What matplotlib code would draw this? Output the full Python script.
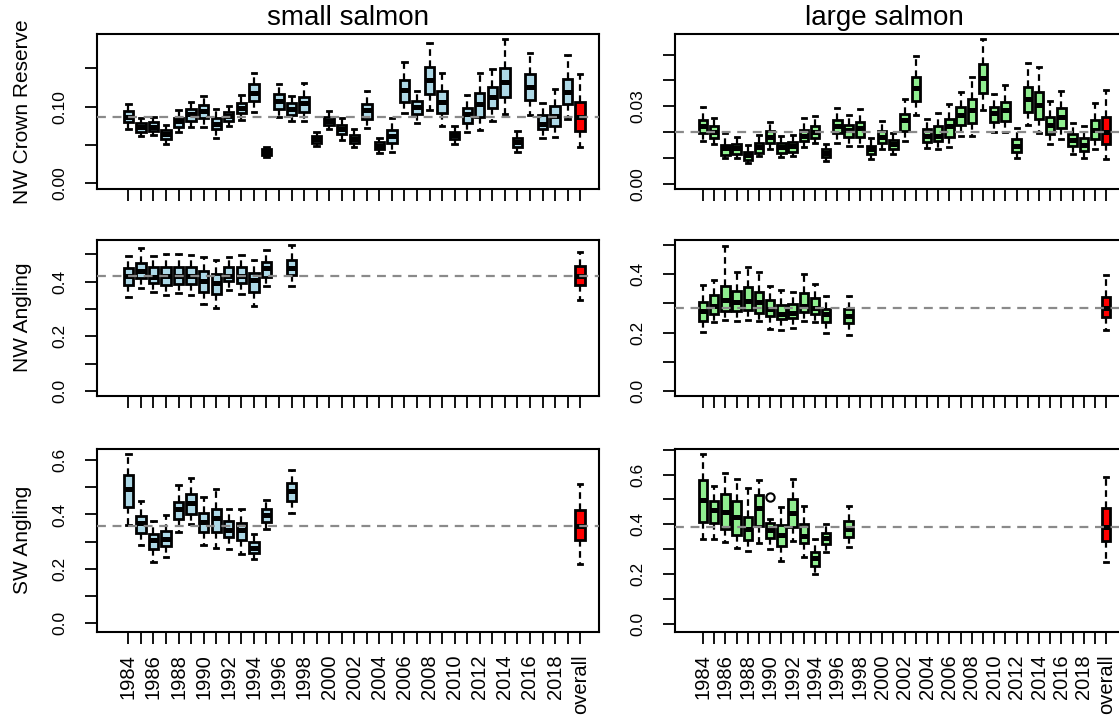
import numpy as np
import matplotlib.pyplot as plt

plt.rcParams['font.family'] = ['Liberation Sans', 'DejaVu Sans']

nan = np.nan
years = list(range(1984, 2020))
xlabels = [str(y) for y in years] + ['overall']

# ---- small salmon, NW Crown Reserve
sm_cr_lo = [0.0709, 0.0617, 0.063, 0.0513, 0.0665, 0.0739, 0.073, 0.0596, 0.0752, 0.0826, 0.0935, 0.0348,
            0.087, 0.0817, 0.0817, 0.0487, 0.0709, 0.0565, 0.047, 0.0726, 0.04, 0.0413, 0.0913, 0.0791,
            0.0957, 0.0752, 0.0513, 0.0665, 0.0696, 0.0817, 0.09, 0.0404, 0.0891, 0.0596, 0.0609, 0.0835, 0.047]
sm_cr_q1 = [0.0796, 0.0674, 0.0683, 0.0578, 0.0739, 0.0817, 0.0848, 0.0704, 0.0817, 0.0913, 0.1074, 0.037,
            0.097, 0.0891, 0.0926, 0.0522, 0.0761, 0.0643, 0.0522, 0.0835, 0.0443, 0.0522, 0.1065, 0.0904,
            0.1165, 0.0913, 0.0578, 0.0791, 0.087, 0.0978, 0.1126, 0.0478, 0.1087, 0.0709, 0.0752, 0.1035, 0.0687]
sm_cr_med = [0.0861, 0.073, 0.0739, 0.0639, 0.0817, 0.0904, 0.0943, 0.0778, 0.0878, 0.0987, 0.1174, 0.0409,
             0.1078, 0.0965, 0.1052, 0.0574, 0.0817, 0.0704, 0.0578, 0.0957, 0.0487, 0.0617, 0.1217, 0.0991,
             0.1348, 0.1065, 0.063, 0.0904, 0.1035, 0.113, 0.1326, 0.0535, 0.1252, 0.077, 0.0878, 0.1196, 0.0861]
sm_cr_q3 = [0.0943, 0.0783, 0.0804, 0.0696, 0.0857, 0.0965, 0.1022, 0.0848, 0.0926, 0.1052, 0.1291, 0.0448,
            0.1161, 0.1043, 0.113, 0.0617, 0.0861, 0.0761, 0.063, 0.1035, 0.0535, 0.0696, 0.1348, 0.1074,
            0.1522, 0.1204, 0.0674, 0.0978, 0.1183, 0.1261, 0.1509, 0.0587, 0.1422, 0.0891, 0.1009, 0.1361, 0.1065]
sm_cr_hi = [0.1035, 0.0857, 0.087, 0.0761, 0.0952, 0.106, 0.1143, 0.097, 0.1009, 0.1152, 0.1435, 0.0478,
            0.1296, 0.1139, 0.1304, 0.0674, 0.0943, 0.0848, 0.0704, 0.1204, 0.0587, 0.0848, 0.1587, 0.1204,
            0.1835, 0.1443, 0.0748, 0.1152, 0.1443, 0.1491, 0.1883, 0.0683, 0.1704, 0.1052, 0.123, 0.1674, 0.1422]

# ---- large salmon, NW Crown Reserve
lg_cr_lo = [0.0164, 0.0153, 0.0099, 0.0099, 0.008, 0.0106, 0.0135, 0.0102, 0.0108, 0.0142, 0.0157, 0.0089,
            0.0157, 0.0148, 0.0147, 0.0095, 0.0135, 0.0116, 0.0166, 0.0267, 0.0138, 0.0134, 0.0144, 0.0187,
            0.0186, 0.0286, 0.0202, 0.0202, 0.0099, 0.0226, 0.0196, 0.0155, 0.0173, 0.0115, 0.0099, 0.0134, 0.0095]
lg_cr_q1 = [0.0196, 0.0177, 0.0112, 0.0116, 0.0093, 0.0121, 0.0157, 0.0121, 0.0125, 0.0164, 0.0177, 0.0103,
            0.0196, 0.018, 0.0183, 0.0116, 0.016, 0.0134, 0.0206, 0.0321, 0.0161, 0.0166, 0.0183, 0.0228,
            0.0235, 0.0351, 0.0238, 0.0244, 0.0122, 0.028, 0.025, 0.0193, 0.0218, 0.0147, 0.0129, 0.0173, 0.0153]
lg_cr_med = [0.0222, 0.0202, 0.0138, 0.0138, 0.0112, 0.0144, 0.0183, 0.0142, 0.0147, 0.0186, 0.0202, 0.0119,
             0.0222, 0.0209, 0.0215, 0.0134, 0.0183, 0.0153, 0.0247, 0.037, 0.0186, 0.0186, 0.0222, 0.0267,
             0.0286, 0.0409, 0.0273, 0.0286, 0.0147, 0.0327, 0.0305, 0.0228, 0.0258, 0.017, 0.0151, 0.0209, 0.0202]
lg_cr_q3 = [0.0247, 0.0222, 0.0151, 0.0153, 0.0125, 0.0157, 0.0206, 0.0157, 0.0161, 0.0209, 0.0224, 0.0134,
            0.0247, 0.0228, 0.0241, 0.0148, 0.0206, 0.017, 0.0271, 0.0415, 0.0213, 0.0224, 0.025, 0.0296,
            0.0327, 0.0464, 0.0296, 0.0318, 0.0173, 0.0374, 0.0354, 0.026, 0.0293, 0.0192, 0.0177, 0.0247, 0.026]
lg_cr_hi = [0.0299, 0.0256, 0.0196, 0.0183, 0.0151, 0.0189, 0.0241, 0.0186, 0.0189, 0.0254, 0.0263, 0.0155,
            0.0295, 0.0267, 0.029, 0.0177, 0.0245, 0.0196, 0.0327, 0.0495, 0.025, 0.0276, 0.0309, 0.0354,
            0.0415, 0.0561, 0.0348, 0.0383, 0.0215, 0.0466, 0.0451, 0.0322, 0.0361, 0.0235, 0.0224, 0.0314, 0.0363]

# only 1984-1995, 1997 and overall in the angling series
gap = [nan] * 22
# ---- small salmon, NW Angling
sm_nw_lo = [0.345, 0.378, 0.361, 0.349, 0.357, 0.351, 0.318, 0.302, 0.37, 0.355, 0.312, 0.382, nan, 0.385] + gap + [0.333]
sm_nw_q1 = [0.388, 0.412, 0.394, 0.388, 0.39, 0.391, 0.363, 0.354, 0.402, 0.394, 0.361, 0.418, nan, 0.424] + gap + [0.388]
sm_nw_med = [0.422, 0.437, 0.418, 0.421, 0.421, 0.421, 0.402, 0.396, 0.422, 0.422, 0.404, 0.449, nan, 0.449] + gap + [0.422]
sm_nw_q3 = [0.451, 0.467, 0.455, 0.455, 0.455, 0.455, 0.439, 0.428, 0.455, 0.455, 0.43, 0.471, nan, 0.479] + gap + [0.457]
sm_nw_hi = [0.495, 0.522, 0.495, 0.5, 0.5, 0.498, 0.488, 0.479, 0.491, 0.498, 0.479, 0.516, nan, 0.532] + gap + [0.507]

# ---- large salmon, NW Angling
lg_nw_lo = [0.201, 0.235, 0.244, 0.238, 0.244, 0.238, 0.213, 0.21, 0.216, 0.241, 0.235, 0.199, nan, 0.19] + gap + [0.21]
lg_nw_q1 = [0.241, 0.264, 0.272, 0.272, 0.277, 0.267, 0.256, 0.247, 0.249, 0.269, 0.264, 0.235, nan, 0.232] + gap + [0.252]
lg_nw_med = [0.272, 0.29, 0.311, 0.303, 0.309, 0.303, 0.281, 0.264, 0.267, 0.29, 0.283, 0.264, nan, 0.258] + gap + [0.283]
lg_nw_q3 = [0.303, 0.328, 0.36, 0.343, 0.357, 0.34, 0.311, 0.294, 0.298, 0.335, 0.317, 0.281, nan, 0.281] + gap + [0.32]
lg_nw_hi = [0.363, 0.381, 0.494, 0.406, 0.425, 0.406, 0.36, 0.345, 0.34, 0.4, 0.366, 0.326, nan, 0.326] + gap + [0.398]

# ---- small salmon, SW Angling
sm_sw_lo = [0.361, 0.288, 0.226, 0.245, 0.337, 0.364, 0.288, 0.278, 0.272, 0.253, 0.236, 0.346, nan, 0.404] + gap + [0.218]
sm_sw_q1 = [0.426, 0.333, 0.272, 0.284, 0.383, 0.401, 0.337, 0.337, 0.318, 0.306, 0.259, 0.373, nan, 0.449] + gap + [0.306]
sm_sw_med = [0.493, 0.367, 0.306, 0.31, 0.419, 0.443, 0.373, 0.386, 0.343, 0.343, 0.278, 0.398, nan, 0.486] + gap + [0.357]
sm_sw_q3 = [0.545, 0.394, 0.327, 0.339, 0.447, 0.475, 0.406, 0.42, 0.376, 0.37, 0.297, 0.42, nan, 0.517] + gap + [0.416]
sm_sw_hi = [0.622, 0.449, 0.376, 0.398, 0.51, 0.535, 0.465, 0.492, 0.422, 0.422, 0.327, 0.453, nan, 0.565] + gap + [0.514]

# ---- large salmon, SW Angling
lg_sw_lo = [0.34, 0.34, 0.33, 0.306, 0.294, 0.326, 0.299, 0.253, 0.334, 0.27, 0.199, 0.29, nan, 0.31] + gap + [0.25]
lg_sw_q1 = [0.41, 0.406, 0.381, 0.357, 0.337, 0.393, 0.344, 0.314, 0.388, 0.324, 0.233, 0.32, nan, 0.348] + gap + [0.334]
lg_sw_med = [0.497, 0.457, 0.451, 0.43, 0.38, 0.467, 0.377, 0.357, 0.447, 0.353, 0.263, 0.344, nan, 0.38] + gap + [0.39]
lg_sw_q3 = [0.58, 0.495, 0.524, 0.493, 0.43, 0.517, 0.406, 0.397, 0.5, 0.401, 0.29, 0.364, nan, 0.413] + gap + [0.467]
lg_sw_hi = [0.682, 0.553, 0.607, 0.584, 0.548, 0.58, 0.42, 0.468, 0.584, 0.473, 0.34, 0.401, nan, 0.473] + gap + [0.591]
lg_sw_out = {1990: [0.508]}

W, H = 1119, 719
fig = plt.figure(figsize=(W / 100, H / 100), dpi=100)


def px_axes(x0, y0, x1, y1):
    return fig.add_axes([x0 / W, 1 - y1 / H, (x1 - x0) / W, (y1 - y0) / H])


def panel(ax, lo, q1, med, q3, hi, fill, ylim, yticks, ylabs, outliers=None, show_x=False):
    outliers = outliers or {}
    stats, pos = [], []
    for i in range(len(lo)):
        if np.isnan(lo[i]):
            continue
        key = years[i] if i < len(years) else 'overall'
        stats.append(dict(whislo=lo[i], q1=q1[i], med=med[i], q3=q3[i], whishi=hi[i],
                          fliers=outliers.get(key, [])))
        pos.append(i + 1)
    art = ax.bxp(stats, positions=pos, widths=0.75, patch_artist=True, manage_ticks=False,
                 boxprops=dict(edgecolor='black', linewidth=2.0),
                 medianprops=dict(color='black', linewidth=3.6, solid_capstyle='butt'),
                 whiskerprops=dict(color='black', linewidth=1.6, linestyle=(0, (3, 2))),
                 capprops=dict(color='black', linewidth=2.0), capwidths=0.35,
                 flierprops=dict(marker='o', markerfacecolor='none', markeredgecolor='black',
                                 markersize=6, markeredgewidth=1.5))
    for p, b in zip(pos, art['boxes']):
        b.set_facecolor('red' if p == len(lo) else fill)
    # reference line at the overall median
    ax.axhline(med[-1], color='#8a8a8a', lw=1.6, ls=(0, (4, 3)), zorder=5)

    ax.set_xlim(-1.5, 38.5)
    ax.set_ylim(*ylim)
    ax.set_yticks(yticks)
    ax.set_yticklabels(ylabs, rotation=90, va='center', fontsize=12.5)
    ax.set_xticks(np.arange(1, len(xlabels) + 1))
    if show_x:
        ax.set_xticklabels([l if i % 2 == 0 else '' for i, l in enumerate(xlabels)],
                           rotation=90, fontsize=14.5)
    else:
        ax.set_xticklabels([])
    ax.tick_params(direction='out', length=8.5, width=1.3)
    ax.tick_params(axis='y', pad=13)
    ax.tick_params(axis='x', pad=8)
    for s in ax.spines.values():
        s.set_linewidth(1.5)


rows = [(34, 189), (240, 395.5), (448.5, 631.5)]
L = (97, 599)
R = (675, 1123)

ax = px_axes(L[0], rows[0][0], L[1], rows[0][1])
panel(ax, sm_cr_lo, sm_cr_q1, sm_cr_med, sm_cr_q3, sm_cr_hi, '#ADD8E6', (-0.0074, 0.195),
      [0, 0.05, 0.10, 0.15], ['0.00', '', '0.10', ''])
ax.set_ylabel('NW Crown Reserve', fontsize=15)
ax.yaxis.set_label_coords(-0.13, 0.5)

ax = px_axes(R[0], rows[0][0], R[1], rows[0][1])
panel(ax, lg_cr_lo, lg_cr_q1, lg_cr_med, lg_cr_q3, lg_cr_hi, '#90EE90', (-0.002, 0.058),
      [0, 0.01, 0.02, 0.03, 0.04, 0.05], ['0.00', '', '', '0.03', '', ''])

ax = px_axes(L[0], rows[1][0], L[1], rows[1][1])
panel(ax, sm_nw_lo, sm_nw_q1, sm_nw_med, sm_nw_q3, sm_nw_hi, '#ADD8E6', (-0.017, 0.552),
      [0, 0.1, 0.2, 0.3, 0.4, 0.5], ['0.0', '', '0.2', '', '0.4', ''])
ax.set_ylabel('NW Angling', fontsize=15)
ax.yaxis.set_label_coords(-0.13, 0.5)

ax = px_axes(R[0], rows[1][0], R[1], rows[1][1])
panel(ax, lg_nw_lo, lg_nw_q1, lg_nw_med, lg_nw_q3, lg_nw_hi, '#90EE90', (-0.015, 0.516),
      [0, 0.1, 0.2, 0.3, 0.4, 0.5], ['0.0', '', '0.2', '', '0.4', ''])

ax = px_axes(L[0], rows[2][0], L[1], rows[2][1])
panel(ax, sm_sw_lo, sm_sw_q1, sm_sw_med, sm_sw_q3, sm_sw_hi, '#ADD8E6', (-0.031, 0.643),
      [0, 0.1, 0.2, 0.3, 0.4, 0.5, 0.6], ['0.0', '', '0.2', '', '0.4', '', '0.6'], show_x=True)
ax.set_ylabel('SW Angling', fontsize=15)
ax.yaxis.set_label_coords(-0.13, 0.5)

ax = px_axes(R[0], rows[2][0], R[1], rows[2][1])
panel(ax, lg_sw_lo, lg_sw_q1, lg_sw_med, lg_sw_q3, lg_sw_hi, '#90EE90', (-0.031, 0.705),
      [0, 0.1, 0.2, 0.3, 0.4, 0.5, 0.6, 0.7], ['0.0', '', '0.2', '', '0.4', '', '0.6', ''],
      outliers=lg_sw_out, show_x=True)

fig.text(348 / W, 1 - 18 / H, 'small salmon', ha='center', va='center', fontsize=20)
fig.text(884 / W, 1 - 18 / H, 'large salmon', ha='center', va='center', fontsize=20)

fig.savefig('out.png', dpi=100)
